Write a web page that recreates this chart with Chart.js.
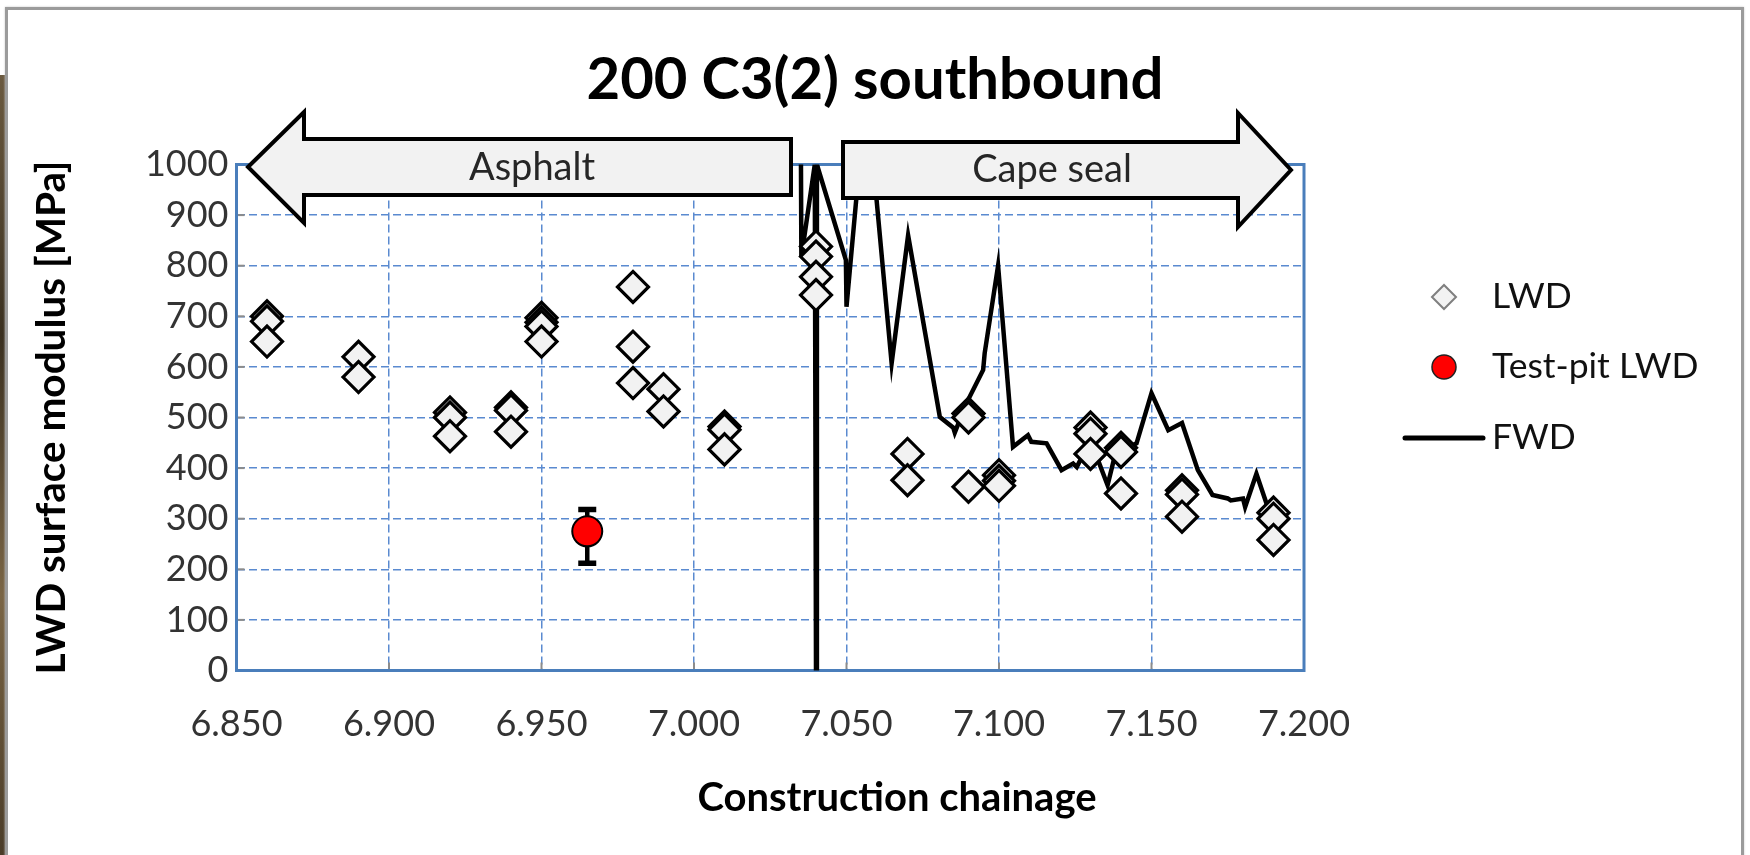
<!DOCTYPE html>
<html><head><meta charset="utf-8">
<script src="https://cdn.jsdelivr.net/npm/chart.js@4"></script>
<style>
html,body{margin:0;padding:0;background:#fff;}
#wrap{position:relative;width:1750px;height:855px;overflow:hidden;background:#fff;}
#c{position:absolute;left:0;top:0;}
#frame{position:absolute;left:5px;top:7px;width:1733px;height:900px;border:3px solid #9b9b9b;border-bottom:none;pointer-events:none;box-shadow:0 0 2px #c8c8c8;}
#strip{position:absolute;left:0;top:75px;width:5px;height:780px;background:linear-gradient(#6b5a40,#3a3020,#7a6545,#4a3c28);}
</style></head>
<body><div id="wrap"><canvas id="c" width="1750" height="855"></canvas><div id="strip"></div><div id="frame"></div></div>
<script>
// ---- data ----
const seriesNames = ['LWD', 'Test-pit LWD', 'FWD'];
const lwdChainage = [6.860, 6.860, 6.860, 6.890, 6.890, 6.920, 6.920, 6.920, 6.940, 6.940, 6.940,
  6.950, 6.950, 6.950, 6.950, 6.980, 6.980, 6.980, 6.990, 6.990, 7.010, 7.010, 7.010,
  7.040, 7.040, 7.040, 7.040, 7.070, 7.070, 7.090, 7.090, 7.090, 7.100, 7.100, 7.100,
  7.130, 7.130, 7.130, 7.140, 7.140, 7.140, 7.160, 7.160, 7.160, 7.190, 7.190, 7.190];
const lwdModulus = [700, 690, 650, 620, 580, 510, 500, 463, 520, 514, 472,
  697, 688, 680, 650, 758, 640, 568, 556, 512, 482, 476, 437,
  838, 818, 778, 742, 428, 376, 508, 500, 363, 386, 375, 365,
  480, 468, 428, 440, 432, 350, 356, 348, 304, 312, 300, 258];
const pitChainage = [6.965];
const pitModulus = [275];
const pitErrLow = [212];
const pitErrHigh = [318];
const fwdChainage = [7.0350, 7.0352, 7.0396, 7.0400, 7.0403, 7.0498, 7.0500, 7.0565, 7.0648, 7.0702,
  7.0806, 7.0850, 7.0855, 7.0893, 7.0948, 7.0953, 7.0997, 7.1046, 7.1095, 7.1106,
  7.1156, 7.1205, 7.1243, 7.1255, 7.1300, 7.1356, 7.1380, 7.1451, 7.1500, 7.1555,
  7.1600, 7.1652, 7.1700, 7.1750, 7.1760, 7.1800, 7.1807, 7.1844, 7.1877, 7.1910, 7.1947];
const fwdModulus = [1100, 817, 1000, 0, 1000, 811, 719, 1150, 607, 860,
  501, 480, 470, 528, 594, 627, 800, 442, 465, 452,
  449, 396, 409, 402, 455, 366, 425, 449, 548, 475,
  489, 396, 347, 340, 336, 340, 323, 389, 330, 312, 297];
const xTicks = [6.85, 6.90, 6.95, 7.00, 7.05, 7.10, 7.15, 7.20];
const yTicks = [0, 100, 200, 300, 400, 500, 600, 700, 800, 900, 1000];
const arrowLabels = ['Asphalt', 'Cape seal'];

// ---- styling / layout ----
const FONT = 'Lato, "Open Sans", sans-serif';
const AREA = {left: 236.5, right: 1304, top: 164.5, bottom: 670.5};

const framePlugin = {
  id: 'frame',
  beforeDatasetsDraw(chart) {
    const {ctx, chartArea: a, scales} = chart;
    ctx.save();
    ctx.strokeStyle = '#8c8c8c';
    ctx.lineWidth = 2;
    scales.y.ticks.forEach(t => {
      const py = scales.y.getPixelForValue(t.value);
      ctx.beginPath(); ctx.moveTo(a.left, py); ctx.lineTo(a.left + 8, py); ctx.stroke();
    });
    scales.x.ticks.forEach(t => {
      const px = scales.x.getPixelForValue(t.value);
      ctx.beginPath(); ctx.moveTo(px, a.bottom); ctx.lineTo(px, a.bottom - 8); ctx.stroke();
    });
    ctx.strokeStyle = '#4a7ebb';
    ctx.lineWidth = 3;
    ctx.strokeRect(a.left, a.top, a.right - a.left, a.bottom - a.top);
    ctx.restore();
  }
};

const errPlugin = {
  id: 'errbars',
  beforeDatasetDraw(chart, args) {
    if (args.index !== 1) return;
    const {ctx, scales: {x, y}} = chart;
    ctx.save();
    ctx.strokeStyle = '#000';
    pitChainage.forEach((c, i) => {
      const px = x.getPixelForValue(c);
      const y1 = y.getPixelForValue(pitErrLow[i]);
      const y2 = y.getPixelForValue(pitErrHigh[i]);
      ctx.lineWidth = 4.5;
      ctx.beginPath(); ctx.moveTo(px, y1); ctx.lineTo(px, y2); ctx.stroke();
      ctx.lineWidth = 5.5;
      ctx.beginPath(); ctx.moveTo(px - 9, y1); ctx.lineTo(px + 9, y1);
      ctx.moveTo(px - 9, y2); ctx.lineTo(px + 9, y2); ctx.stroke();
    });
    ctx.restore();
  }
};

const arrowPlugin = {
  id: 'arrows',
  afterDatasetsDraw(chart) {
    const ctx = chart.ctx;
    ctx.save();
    ctx.lineJoin = 'miter';
    ctx.lineWidth = 4;
    ctx.strokeStyle = '#000';
    ctx.fillStyle = '#f2f2f2';
    // left arrow (Asphalt)
    ctx.beginPath();
    ctx.moveTo(248, 167); ctx.lineTo(304, 112); ctx.lineTo(304, 139); ctx.lineTo(791, 139);
    ctx.lineTo(791, 195); ctx.lineTo(304, 195); ctx.lineTo(304, 223); ctx.closePath();
    ctx.fill(); ctx.stroke();
    // right arrow (Cape seal)
    ctx.beginPath();
    ctx.moveTo(843, 142); ctx.lineTo(1238, 142); ctx.lineTo(1238, 113); ctx.lineTo(1291, 170);
    ctx.lineTo(1238, 227); ctx.lineTo(1238, 198); ctx.lineTo(843, 198); ctx.closePath();
    ctx.fill(); ctx.stroke();
    ctx.fillStyle = '#262626';
    ctx.font = '38px ' + FONT;
    ctx.textAlign = 'center';
    ctx.textBaseline = 'middle';
    ctx.fillText(arrowLabels[0], 532, 168);
    ctx.fillText(arrowLabels[1], 1052, 170);
    ctx.restore();
  }
};

const legendPlugin = {
  id: 'manualLegend',
  afterDraw(chart) {
    const ctx = chart.ctx;
    const ds = chart.data.datasets;
    const rows = [297, 367, 438];
    ctx.save();
    ctx.font = '35.5px ' + FONT;
    ctx.textAlign = 'left';
    ctx.textBaseline = 'middle';
    // LWD diamond
    ctx.beginPath();
    ctx.moveTo(1444 - 12, rows[0]); ctx.lineTo(1444, rows[0] - 12); ctx.lineTo(1444 + 12, rows[0]); ctx.lineTo(1444, rows[0] + 12); ctx.closePath();
    ctx.fillStyle = '#f2f2f2'; ctx.fill();
    ctx.strokeStyle = '#7f7f7f'; ctx.lineWidth = 2; ctx.stroke();
    // test-pit circle
    ctx.beginPath(); ctx.arc(1444, rows[1], 12, 0, Math.PI * 2);
    ctx.fillStyle = ds[1].backgroundColor; ctx.fill();
    ctx.strokeStyle = '#222'; ctx.lineWidth = 1.5; ctx.stroke();
    // FWD line
    ctx.beginPath(); ctx.moveTo(1405, rows[2]); ctx.lineTo(1483, rows[2]);
    ctx.strokeStyle = '#000'; ctx.lineWidth = 5; ctx.lineCap = 'round'; ctx.stroke();
    ctx.fillStyle = '#111';
    ctx.fillText(ds[0].label, 1492, rows[0]);
    ctx.fillText(ds[1].label, 1492, rows[1]);
    ctx.fillText(ds[2].label, 1492, rows[2]);
    ctx.restore();
  }
};

const xTitlePlugin = {
  id: 'xTitle',
  afterDraw(chart) {
    const t = chart.options.scales.x.title;
    const ctx = chart.ctx;
    ctx.save();
    ctx.font = 'bold 40px ' + FONT;
    ctx.fillStyle = '#000';
    ctx.textAlign = 'center';
    ctx.textBaseline = 'middle';
    ctx.fillText(t.text, 897, 798);
    ctx.restore();
  }
};

const gridCommon = {color: '#5a8ad0', lineWidth: 1.5, drawTicks: false};
const borderCommon = {display: false, dash: [8, 4]};

new Chart(document.getElementById('c'), {
  type: 'scatter',
  data: {
    datasets: [
      {
        label: seriesNames[0],
        data: lwdChainage.map((x, i) => ({x: x, y: lwdModulus[i]})),
        pointStyle: 'rectRot', pointRadius: 15.5, pointHoverRadius: 15.5,
        backgroundColor: '#f2f2f2', borderColor: '#000', borderWidth: 3.2, order: 2
      },
      {
        label: seriesNames[1],
        data: pitChainage.map((x, i) => ({x: x, y: pitModulus[i]})),
        pointStyle: 'circle', pointRadius: 15, pointHoverRadius: 15,
        backgroundColor: '#ff0000', borderColor: '#000', borderWidth: 2, order: 1
      },
      {
        label: seriesNames[2],
        type: 'line',
        data: fwdChainage.map((x, i) => ({x: x, y: fwdModulus[i]})),
        showLine: true, borderColor: '#000', borderWidth: 4.5, pointRadius: 0,
        tension: 0, fill: false, order: 3, clip: 0
      }
    ]
  },
  options: {
    responsive: false, animation: false, devicePixelRatio: 1,
    layout: {padding: 0},
    plugins: {
      legend: {display: false},
      tooltip: {enabled: false},
      title: {
        display: true, text: '200 C3(2) southbound', color: '#000',
        font: {family: FONT, size: 58, weight: 'bold'},
        padding: {top: 45.2, bottom: 49.7}
      }
    },
    scales: {
      x: {
        type: 'linear', min: 6.85, max: 7.2,
        afterBuildTicks: s => { s.ticks = xTicks.map(v => ({value: v})); },
        ticks: {callback: v => Number(v).toFixed(3), font: {family: FONT, size: 36}, color: '#333', padding: 32, maxRotation: 0, autoSkip: false},
        grid: gridCommon, border: borderCommon,
        title: {display: false, text: 'Construction chainage'},
        afterFit: s => { s.height = 855 - AREA.bottom; }
      },
      y: {
        type: 'linear', min: 0, max: 1000,
        afterBuildTicks: s => { s.ticks = yTicks.map(v => ({value: v})); },
        ticks: {callback: v => String(v), font: {family: FONT, size: 36}, color: '#333', padding: 8, autoSkip: false},
        grid: gridCommon, border: borderCommon,
        title: {display: true, text: 'LWD surface modulus [MPa]', color: '#000', font: {family: FONT, size: 40.5, weight: 'bold'}, padding: {top: 28, bottom: 0}},
        afterFit: s => { s.width = AREA.left; }
      },
      yRight: {
        type: 'linear', position: 'right', display: true,
        grid: {display: false}, ticks: {display: false}, border: {display: false},
        afterFit: s => { s.width = 1750 - AREA.right; }
      }
    }
  },
  plugins: [framePlugin, errPlugin, arrowPlugin, legendPlugin, xTitlePlugin]
});
</script>
</body></html>
